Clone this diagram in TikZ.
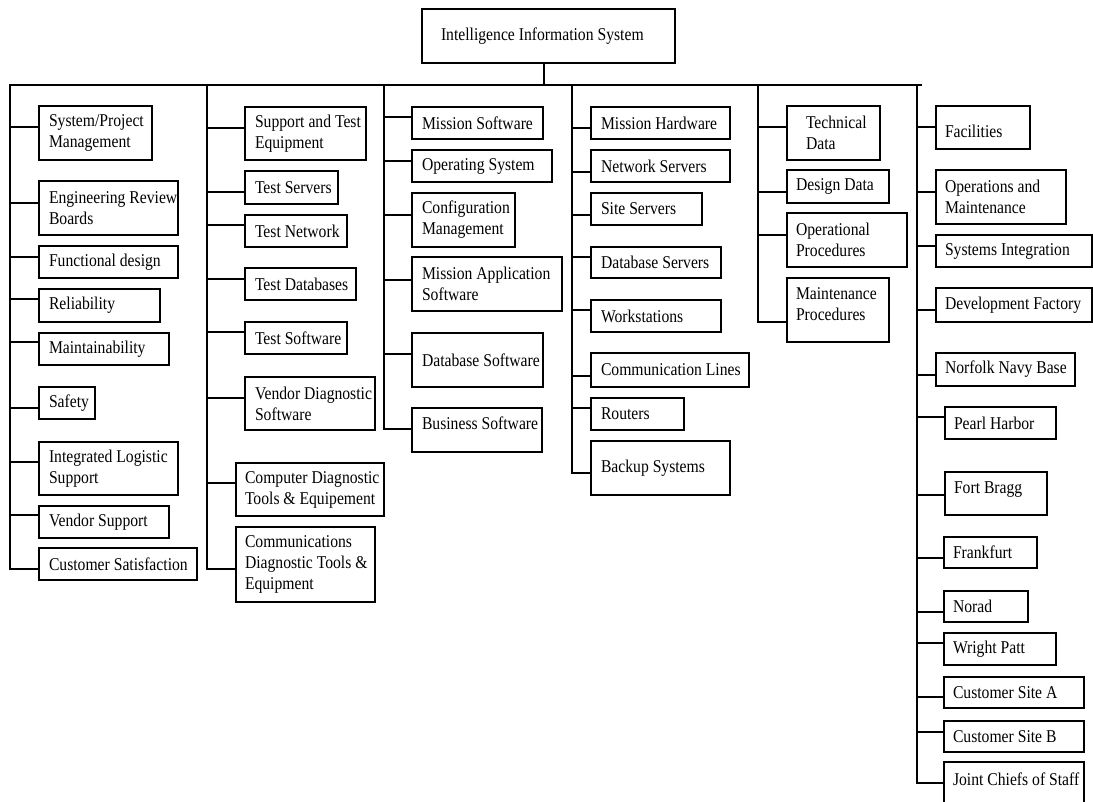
\documentclass[tikz,border=0pt]{standalone}
\usepackage{fontspec}
\setmainfont{Liberation Serif}[FakeStretch=0.87]
\newcommand\wbsfont{\fontsize{18pt}{21pt}\selectfont}
\tikzset{
  box/.style={draw=black, line width=1.3pt, inner sep=0pt, outer sep=0pt, fill=white},
  lbl/.style={anchor=west, inner sep=0pt, outer sep=0pt, align=left, font=\wbsfont, text=black},
  wire/.style={draw=black, line width=1.2pt, line cap=rect},
}
% #1 name, #2 left, #3 top, #4 width, #5 height, #6 text indent, #7 text raise, #8 text
\newcommand\wbsbox[8]{%
  \node[box, minimum width=#4pt, minimum height=#5pt] (#1) at ({#2+#4/2},{#3+#5/2}) {};
  \node[lbl] (#1-t) at ([xshift=#6pt, yshift=#7pt]#1.west) {#8};
}
% #1 bus x, #2 junction y, #3 box name
\newcommand\wbslink[3]{%
  \coordinate (#3-j) at (#1,#2);
  \draw[wire] (#3-j) -- (#3-j -| #3.west);
}
\begin{document}
\begin{tikzpicture}[x=1pt, y=-1pt]
\fill[white] (0,0) rectangle (1093,801);
\useasboundingbox (0,0) rectangle (1093,801);

% root
\wbsbox{root}{422}{9}{253}{54}{19}{0}{Intelligence Information System}

% bus
\coordinate (stem) at (544,85);
\coordinate (c1) at (10,85);
\coordinate (c2) at (207,85);
\coordinate (c3) at (384,85);
\coordinate (c4) at (572,85);
\coordinate (c5) at (758,85);
\coordinate (c6) at (917,85);
\coordinate (busend) at (921,85);
\draw[wire] (stem) -- (stem |- root.south);
\draw[wire] (c1) -- (busend);

% column 1
\wbsbox{sp}{39}{106}{113}{54}{10}{0}{System/Project\\Management}
\wbsbox{erb}{39}{181}{139}{54}{10}{0}{Engineering Review\\Boards}
\wbsbox{fd}{39}{246}{139}{32}{10}{0}{Functional design}
\wbsbox{rel}{39}{289}{121}{33}{10}{0}{Reliability}
\wbsbox{mnt}{39}{333}{130}{32}{10}{0}{Maintainability}
\wbsbox{saf}{39}{387}{56}{32}{10}{0}{Safety}
\wbsbox{ils}{39}{442}{139}{53}{10}{0}{Integrated Logistic\\Support}
\wbsbox{vs}{39}{506}{130}{32}{10}{0}{Vendor Support}
\wbsbox{cs}{39}{548}{158}{32}{10}{0}{Customer Satisfaction}

% column 2
\wbsbox{ste}{245}{107}{121}{53}{10}{0}{Support and Test\\Equipment}
\wbsbox{ts}{245}{171}{93}{33}{10}{0}{Test Servers}
\wbsbox{tn}{245}{215}{102}{32}{10}{0}{Test Network}
\wbsbox{tdb}{245}{268}{111}{32}{10}{0}{Test Databases}
\wbsbox{tsw}{245}{322}{102}{32}{10}{0}{Test Software}
\wbsbox{vds}{245}{377}{130}{53}{10}{0}{Vendor Diagnostic\\Software}
\wbsbox{cdt}{236}{463}{148}{53}{9}{0}{Computer Diagnostic\\Tools \& Equipement}
\wbsbox{comm}{236}{527}{139}{75}{9}{0}{Communications\\Diagnostic Tools \&\\Equipment}

% column 3
\wbsbox{ms}{412}{107}{131}{32}{10}{0}{Mission Software}
\wbsbox{os}{412}{150}{140}{32}{10}{0}{Operating System}
\wbsbox{cm}{412}{193}{103}{54}{10}{0}{Configuration\\Management}
\wbsbox{mas}{412}{257}{150}{54}{10}{0}{Mission Application\\Software}
\wbsbox{dbs}{412}{333}{131}{54}{10}{0}{Database Software}
\wbsbox{bs}{412}{408}{130}{44}{10}{7}{Business Software}

% column 4
\wbsbox{mh}{591}{107}{139}{32}{10}{0}{Mission Hardware}
\wbsbox{ns}{591}{150}{139}{32}{10}{0}{Network Servers}
\wbsbox{ss}{591}{193}{111}{32}{10}{0}{Site Servers}
\wbsbox{dbsv}{591}{247}{130}{31}{10}{0}{Database Servers}
\wbsbox{ws}{591}{300}{130}{32}{10}{0}{Workstations}
\wbsbox{cl}{591}{353}{158}{34}{10}{0}{Communication Lines}
\wbsbox{rt}{591}{398}{93}{32}{10}{0}{Routers}
\wbsbox{bk}{591}{441}{139}{54}{10}{0}{Backup Systems}

% column 5
\wbsbox{td}{787}{106}{93}{54}{19}{0}{Technical\\Data}
\wbsbox{dd}{787}{170}{102}{33}{9}{0}{Design Data}
\wbsbox{op}{787}{213}{120}{54}{9}{0}{Operational\\Procedures}
\wbsbox{mp}{787}{278}{102}{64}{9}{6}{Maintenance\\Procedures}

% column 6
\wbsbox{fac}{936}{106}{94}{43}{9}{-4}{Facilities}
\wbsbox{om}{936}{170}{130}{54}{9}{0}{Operations and\\Maintenance}
\wbsbox{si}{936}{235}{156}{32}{9}{0}{Systems Integration}
\wbsbox{df}{936}{288}{156}{34}{9}{0}{Development Factory}
\wbsbox{nnb}{936}{353}{139}{33}{9}{0}{Norfolk Navy Base}
\wbsbox{ph}{945}{407}{111}{32}{9}{0}{Pearl Harbor}
\wbsbox{fb}{945}{472}{102}{43}{9}{4}{Fort Bragg}
\wbsbox{ff}{944}{537}{93}{31}{9}{0}{Frankfurt}
\wbsbox{nr}{944}{591}{84}{31}{9}{0}{Norad}
\wbsbox{wp}{944}{633}{112}{32}{9}{0}{Wright Patt}
\wbsbox{csa}{944}{677}{140}{31}{9}{0}{Customer Site A}
\wbsbox{csb}{944}{721}{140}{31}{9}{0}{Customer Site B}
\wbsbox{jcs}{944}{762}{140}{44}{9}{5}{Joint Chiefs of Staff}

% branch links
\wbslink{10}{127}{sp}
\wbslink{10}{203}{erb}
\wbslink{10}{257}{fd}
\wbslink{10}{299}{rel}
\wbslink{10}{342}{mnt}
\wbslink{10}{408}{saf}
\wbslink{10}{462}{ils}
\wbslink{10}{515}{vs}
\wbslink{10}{569}{cs}
\draw[wire] (c1) -- (cs-j);

\wbslink{207}{128}{ste}
\wbslink{207}{192}{ts}
\wbslink{207}{225}{tn}
\wbslink{207}{279}{tdb}
\wbslink{207}{332}{tsw}
\wbslink{207}{398}{vds}
\wbslink{207}{483}{cdt}
\wbslink{207}{569}{comm}
\draw[wire] (c2) -- (comm-j);

\wbslink{384}{117}{ms}
\wbslink{384}{161}{os}
\wbslink{384}{215}{cm}
\wbslink{384}{280}{mas}
\wbslink{384}{354}{dbs}
\wbslink{384}{429}{bs}
\draw[wire] (c3) -- (bs-j);

\wbslink{572}{128}{mh}
\wbslink{572}{172}{ns}
\wbslink{572}{215}{ss}
\wbslink{572}{257}{dbsv}
\wbslink{572}{310}{ws}
\wbslink{572}{376}{cl}
\wbslink{572}{408}{rt}
\wbslink{572}{473}{bk}
\draw[wire] (c4) -- (bk-j);

\wbslink{758}{127}{td}
\wbslink{758}{192}{dd}
\wbslink{758}{235}{op}
\wbslink{758}{322}{mp}
\draw[wire] (c5) -- (mp-j);

\wbslink{917}{127}{fac}
\wbslink{917}{192}{om}
\wbslink{917}{246}{si}
\wbslink{917}{310}{df}
\wbslink{917}{375}{nnb}
\wbslink{917}{417}{ph}
\wbslink{917}{495}{fb}
\wbslink{917}{558}{ff}
\wbslink{917}{612}{nr}
\wbslink{917}{643}{wp}
\wbslink{917}{697}{csa}
\wbslink{917}{732}{csb}
\wbslink{917}{783}{jcs}
\draw[wire] (c6) -- (jcs-j);
\end{tikzpicture}
\end{document}
